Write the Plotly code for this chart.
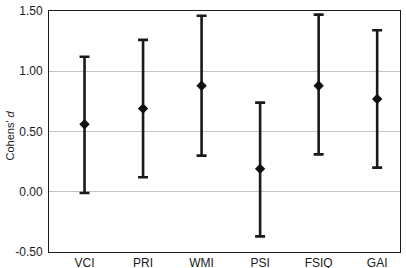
import plotly.graph_objects as go

categories = ["VCI", "PRI", "WMI", "PSI", "FSIQ", "GAI"]
means = [0.56, 0.69, 0.88, 0.19, 0.88, 0.77]
upper = [1.12, 1.26, 1.46, 0.74, 1.47, 1.34]
lower = [-0.01, 0.12, 0.30, -0.37, 0.31, 0.20]
y_ticks = [-0.5, 0.0, 0.5, 1.0, 1.5]
y_ticklabels = ["-0.50", "0.00", "0.50", "1.00", "1.50"]

x_idx = list(range(len(categories)))
err_plus = [u - m for u, m in zip(upper, means)]
err_minus = [m - l for m, l in zip(means, lower)]

fig = go.Figure()
fig.add_trace(go.Scatter(
    x=x_idx, y=means, mode="markers",
    marker=dict(symbol="diamond", size=8, color="#111111"),
    error_y=dict(type="data", symmetric=False, array=err_plus, arrayminus=err_minus,
                 color="#1a1a1a", thickness=2.6, width=5),
    showlegend=False, hoverinfo="skip",
))

fig.update_layout(
    width=406, height=268,
    margin=dict(l=49, r=6, t=11, b=16, autoexpand=False),
    paper_bgcolor="white", plot_bgcolor="white",
    font=dict(family="Liberation Sans, Arial, sans-serif", size=12, color="#1a1a1a"),
    xaxis=dict(range=[-0.607, 5.39], tickvals=x_idx, ticktext=categories,
               showgrid=False, zeroline=False, showline=True, linecolor="#1a1a1a",
               linewidth=1, mirror=True, ticks="", ticklabelstandoff=0,
               tickfont=dict(size=12), automargin=False, fixedrange=True),
    yaxis=dict(range=[-0.5, 1.5], tickvals=y_ticks, ticktext=y_ticklabels,
               showgrid=True, gridcolor="#c4c4c4", gridwidth=1, zeroline=False,
               showline=True, linecolor="#1a1a1a", linewidth=1, mirror=True,
               ticks="", ticklabelstandoff=3, tickfont=dict(size=12),
               automargin=False, fixedrange=True),
    annotations=[dict(text="Cohens' <i>d</i>", xref="paper", yref="paper",
                      x=0, y=0.5, xshift=-40, yshift=-4, textangle=-90,
                      showarrow=False, font=dict(size=11, color="#1a1a1a"),
                      xanchor="center", yanchor="middle")],
)

fig.write_html("out.html", config={"displayModeBar": False},
               post_script="document.body.style.margin='0';document.body.style.overflow='hidden';")
